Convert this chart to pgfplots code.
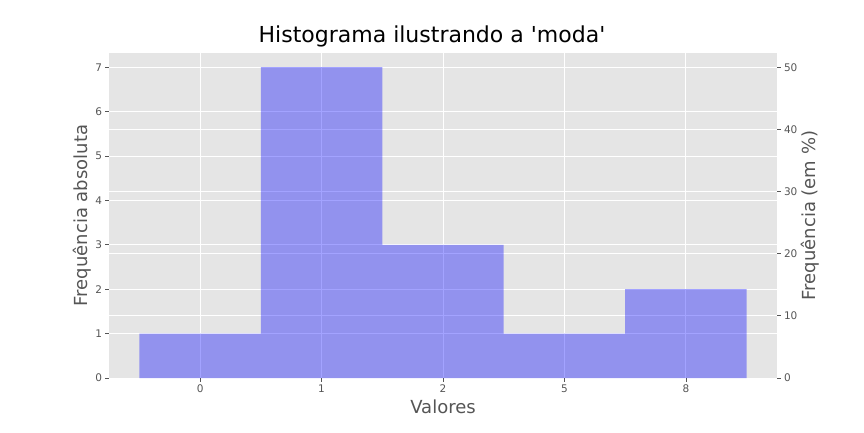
\documentclass[border=0pt]{standalone}
\usepackage{pgfplots}
\pgfplotsset{compat=1.18}
\usepackage{fontspec}
\setmainfont{DejaVu Sans}[Ligatures=TeXOff]
\definecolor{bgggplot}{HTML}{E5E5E5}
\definecolor{txtgray}{HTML}{555555}

\pgfplotsset{
  ggbase/.style={
    at={(0,0)}, anchor=south west,
    scale only axis,
    width=668pt, height=325pt,
    xmin=-0.75, xmax=4.75,
    axis line style={draw=none},
    tick align=outside,
    major tick length=3.5pt,
    tick style={txtgray, line width=0.8pt},
    tick label style={font=\fontsize{10.5}{12}\selectfont, text=txtgray},
    /pgf/number format/assume math mode=true,
    grid style={white, line width=0.9pt},
    label style={font=\fontsize{18}{21}\selectfont, text=txtgray},
  }
}

\begin{document}
\begin{tikzpicture}
\useasboundingbox (-109pt,-54pt) rectangle (755pt,378pt);

% right axis: percentages, drawn first so it carries the background
\begin{axis}[ggbase,
    axis background/.style={fill=bgggplot},
    ymin=0, ymax=52.3,
    ytick={0,10,20,30,40,50},
    axis y line*=right,
    axis x line=none,
    ymajorgrids,
    ylabel={Frequência (em \%)},
    ylabel style={at={(axis description cs:1.049,0.5)}, anchor=center, rotate=0},
]
\addplot[draw=none] coordinates {(0,0)};
\end{axis}

% left axis: absolute counts with the bars
\begin{axis}[ggbase,
    ymin=0, ymax=7.32,
    ytick={0,1,2,3,4,5,6,7},
    xtick={0,1,2,3,4},
    xticklabels={0,1,2,5,8},
    axis y line*=left,
    axis x line*=bottom,
    xmajorgrids, ymajorgrids,
    ylabel={Frequência absoluta},
    xlabel={Valores},
    ylabel style={at={(axis description cs:-0.040,0.5)}, anchor=center},
    xlabel style={at={(axis description cs:0.5,-0.089)}, anchor=center},
    title={Histograma ilustrando a 'moda'},
    title style={at={(axis description cs:0.4835,1.034)}, anchor=center,
      font=\fontsize{22}{25}\selectfont, text=black},
]
\addplot[ybar, bar width=1, draw=none, fill=blue, fill opacity=0.36]
  coordinates {(0,1) (1,7) (2,3) (3,1) (4,2)};
\end{axis}
\end{tikzpicture}
\end{document}
